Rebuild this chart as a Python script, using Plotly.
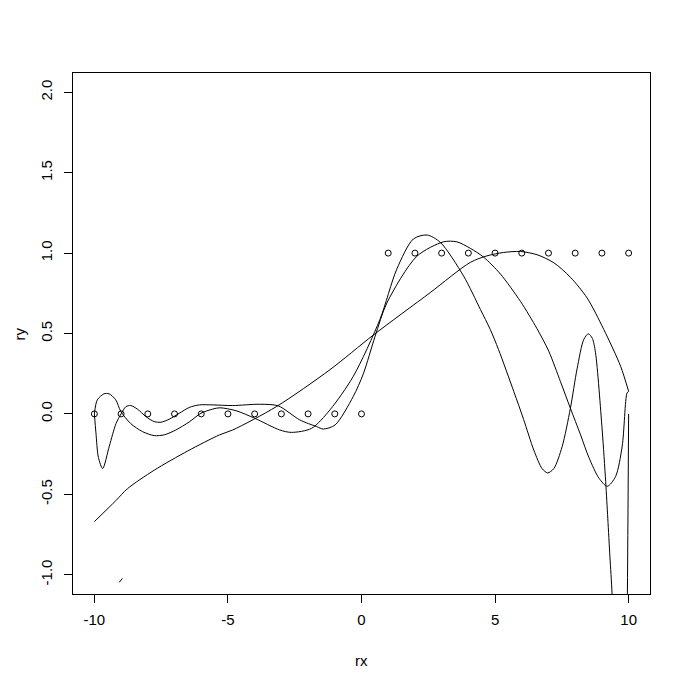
import plotly.graph_objects as go

# observed data points (step data)
rx = [-10, -9, -8, -7, -6, -5, -4, -3, -2, -1, 0, 1, 2, 3, 4, 5, 6, 7, 8, 9, 10]
ry = [0, 0, 0, 0, 0, 0, 0, 0, 0, 0, 0, 1, 1, 1, 1, 1, 1, 1, 1, 1, 1]

# curve 1 (smooth, low wiggle) values
c1_x = [-10, -9.2, -8.76, -7.76, -6.5, -5.31, -4.82, -3.18, -1.18, 0.44, 2.57,
        4.07, 4.7, 5.32, 5.95, 6.57, 7.2, 7.82, 8.45, 9.07, 9.7, 10]
c1_y = [-0.67, -0.54, -0.465, -0.35, -0.23, -0.13, -0.10, 0.046, 0.275, 0.49, 0.754,
        0.942, 0.983, 1.004, 1.01, 0.99, 0.94, 0.85, 0.72, 0.525, 0.296, 0.14]

# curve 2 (peak near 2.4, strong wiggles on the right)
c2_x = [-10, -9.89, -9.64, -9.45, -9.2, -9.01, -8.64, -8.2, -7.76, -7.38, -6.95,
        -6.45, -6.01, -5.57, -5.3, -4.7, -4.0, -3.06, -2.62, -1.87, -1.18, -0.31,
        0.69, 1.32, 1.94, 2.45, 2.95, 3.82, 4.45, 4.82, 5.13, 5.7, 6.07, 6.45,
        6.76, 6.97, 7.2, 7.51, 7.82, 8.07, 8.32, 8.49, 8.64, 8.76, 9.01, 9.14,
        9.22, 9.3, 9.38, 9.55, 9.75, 9.9, 9.95, 10]
c2_y = [0.0, 0.0875, 0.125, 0.125, 0.0875, 0.015, -0.06, -0.11, -0.135, -0.13, -0.10,
        -0.05, 0.004, 0.03, 0.038, 0.02, -0.027, -0.10, -0.115, -0.09, 0.025, 0.233,
        0.5875, 0.9, 1.0875, 1.1125, 1.067, 0.858, 0.65, 0.525, 0.40, 0.14, -0.035, -0.225,
        -0.34, -0.367, -0.34, -0.204, 0.035, 0.28, 0.4625, 0.498, 0.47, 0.38, -0.10, -0.42,
        -0.65, -0.89, -1.12, -2.0, -3.0, -2.0, -1.2, 0.0]

# curve 3 (peak near 3.3)
c3_x = [-10, -9.94, -9.85, -9.69, -9.44, -9.19, -9.0, -8.82, -8.64, -8.39, -8.07,
        -7.76, -7.51, -7.2, -6.82, -6.45, -6.07, -5.57, -4.82, -3.81, -3.12, -2.31,
        -1.68, -1.43, -0.99, -0.31, 0.07, 0.51, 0.95, 2.07, 3.07, 3.57, 4.07, 4.57,
        5.2, 5.95, 6.57, 7.01, 7.45, 7.82, 8.2, 8.51, 8.89, 9.2, 9.51, 9.76, 9.94, 10]
c3_y = [0.0, -0.12, -0.27, -0.34, -0.2, -0.06, 0.0, 0.045, 0.052, 0.03, -0.017,
        -0.048, -0.052, -0.033, 0.004, 0.04, 0.056, 0.056, 0.052, 0.06, 0.05, -0.0375,
        -0.079, -0.094, -0.069, 0.108, 0.25, 0.483, 0.69, 0.98, 1.07, 1.07, 1.03, 0.975,
        0.87, 0.70, 0.53, 0.39, 0.2, 0.035, -0.13, -0.27, -0.40, -0.45, -0.39, -0.2, 0.13, 0.14]

# short visible piece of a fourth curve near the bottom left
c4_x = [-9.07, -8.95]
c4_y = [-1.048, -1.023]

x_ticks = [-10, -5, 0, 5, 10]
x_labels = ["-10", "-5", "0", "5", "10"]
y_ticks = [-1.0, -0.5, 0.0, 0.5, 1.0, 1.5, 2.0]
y_labels = ["-1.0", "-0.5", "0.0", "0.5", "1.0", "1.5", "2.0"]

FONT = "Liberation Sans, Arial, sans-serif"
line_style = dict(color="black", width=1)

fig = go.Figure()
fig.add_trace(go.Scatter(x=rx, y=ry, mode="markers",
                         marker=dict(symbol="circle-open", size=6, color="black",
                                     line=dict(width=1, color="black")),
                         hoverinfo="skip"))
for cx, cy in [(c1_x, c1_y), (c2_x, c2_y), (c3_x, c3_y)]:
    fig.add_trace(go.Scatter(x=cx, y=cy, mode="lines",
                             line=dict(color="black", width=1, shape="spline", smoothing=0.8)))
fig.add_trace(go.Scatter(x=c4_x, y=c4_y, mode="lines", line=line_style))

fig.update_layout(
    width=688, height=687,
    margin=dict(l=65, r=46, t=65, b=101),
    paper_bgcolor="white", plot_bgcolor="white",
    showlegend=False,
    font=dict(family=FONT, size=15, color="black"),
    xaxis=dict(range=[-10.8, 10.8], tickvals=x_ticks, ticktext=x_labels,
               showgrid=False, zeroline=False, showline=True, mirror=True,
               linecolor="black", linewidth=1, ticks="outside", ticklen=8,
               tickcolor="black", tickwidth=1, ticklabelstandoff=4,
               tickfont=dict(family=FONT, size=15, color="black")),
    yaxis=dict(range=[-1.12, 2.12], tickvals=y_ticks, ticktext=y_labels,
               showgrid=False, zeroline=False, showline=True, mirror=True,
               linecolor="black", linewidth=1, ticks="outside", ticklen=8,
               tickcolor="black", tickwidth=1, tickangle=-90, ticklabelstandoff=6,
               tickfont=dict(family=FONT, size=15, color="black")),
    annotations=[
        dict(text="rx", x=0.5, y=-0.127, xref="paper", yref="paper",
             xanchor="center", yanchor="middle", showarrow=False,
             font=dict(family=FONT, size=15, color="black")),
        dict(text="ry", x=-0.092, y=0.5, xref="paper", yref="paper",
             xanchor="center", yanchor="middle", showarrow=False, textangle=-90,
             font=dict(family=FONT, size=15, color="black")),
    ],
)

fig.write_html("out.html")
